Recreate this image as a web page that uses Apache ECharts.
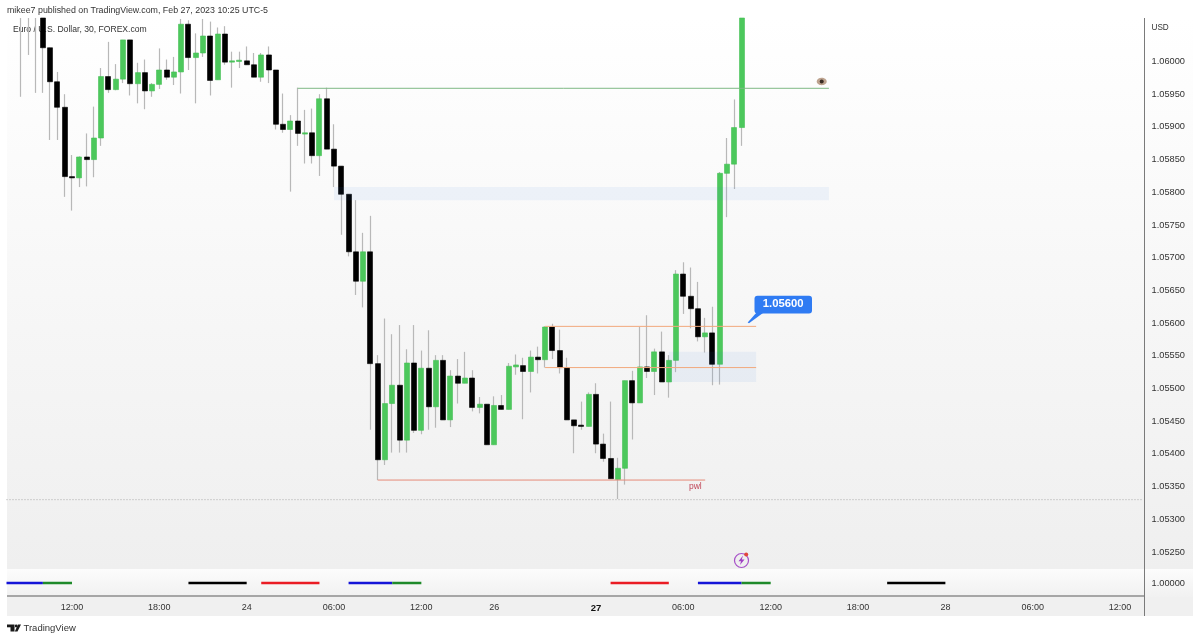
<!DOCTYPE html>
<html><head><meta charset="utf-8">
<style>html,body{margin:0;padding:0;background:#fff}#c{width:1200px;height:641px}</style>
<script src="https://cdn.jsdelivr.net/npm/echarts@6/dist/echarts.min.js"></script>
</head><body><div id="c"></div>
<script>
const barCount = 157;
const firstBar = 2;
const priceMin = 1.052240, priceMax = 1.060665;
const tickIndex = [9,21,33,45,57,67,81,93,105,117,129,141,153];
const tickLabels = ['12:00','18:00','24','06:00','12:00','26','27','06:00','12:00','18:00','28','06:00','12:00'];
const priceTicks = [1.0525,1.053,1.0535,1.054,1.0545,1.055,1.0555,1.056,1.0565,1.057,1.0575,1.058,1.0585,1.059,1.0595,1.06];
const opens = [1.06085,1.06078,1.06090,1.06075,1.06021,1.05969,1.05930,1.05824,1.05822,1.05854,
1.05850,1.05883,1.05977,1.05957,1.05973,1.06033,1.05966,1.05983,1.05955,1.05965,
1.05987,1.05976,1.05984,1.06057,1.06006,1.06013,1.06039,1.05972,1.06042,1.05999,
1.06000,1.06001,1.05995,1.05976,1.06010,1.05987,1.05904,1.05896,1.05909,1.05889,
1.05891,1.05856,1.05943,1.05866,1.05840,1.05797,1.05709,1.05664,1.05709,1.05538,
1.05391,1.05477,1.05505,1.05421,1.05539,1.05436,1.05531,1.05472,1.05543,1.05452,
1.05519,1.05508,1.05516,1.05471,1.05476,1.05414,1.05474,1.05468,1.05533,1.05535,
1.05526,1.05548,1.05544,1.05594,1.05558,1.05532,1.05452,1.05444,1.05442,1.05491,
1.05415,1.05393,1.05361,1.05378,1.05512,1.05478,1.05533,1.05526,1.05556,1.05510,
1.05543,1.05675,1.05641,1.05622,1.05579,1.05585,1.05537,1.05829,1.05843,1.05899];
const closes = [1.06078,1.06090,1.06080,1.06021,1.05969,1.05930,1.05824,1.05822,1.05854,1.05850,
1.05883,1.05977,1.05957,1.05973,1.06033,1.05966,1.05983,1.05955,1.05965,1.05987,
1.05976,1.05984,1.06057,1.06006,1.06013,1.06039,1.05971,1.06042,1.05999,1.06001,
1.06002,1.05995,1.05976,1.06010,1.05987,1.05904,1.05896,1.05909,1.05890,1.05891,
1.05856,1.05943,1.05866,1.05840,1.05797,1.05709,1.05664,1.05709,1.05538,1.05391,
1.05477,1.05505,1.05421,1.05539,1.05436,1.05531,1.05472,1.05543,1.05452,1.05519,
1.05508,1.05516,1.05471,1.05476,1.05414,1.05474,1.05468,1.05534,1.05536,1.05526,
1.05548,1.05544,1.05594,1.05558,1.05532,1.05452,1.05443,1.05442,1.05491,1.05415,
1.05393,1.05362,1.05378,1.05512,1.05478,1.05533,1.05526,1.05556,1.05510,1.05543,
1.05675,1.05641,1.05622,1.05579,1.05585,1.05537,1.05829,1.05843,1.05899,1.06075];
const highs = [1.06095,1.06100,1.06105,1.06080,1.06021,1.05984,1.05950,1.05857,1.05855,1.05890,
1.05931,1.05990,1.06030,1.05996,1.06033,1.06033,1.05998,1.06003,1.05967,1.06020,
1.06003,1.06007,1.06065,1.06063,1.06043,1.06065,1.06061,1.06052,1.06054,1.06015,
1.06015,1.06023,1.06013,1.06013,1.06023,1.05987,1.05951,1.05918,1.05960,1.05926,
1.05928,1.05950,1.05960,1.05904,1.05840,1.05797,1.05788,1.05738,1.05764,1.05551,
1.05607,1.05583,1.05597,1.05560,1.05597,1.05558,1.05589,1.05551,1.05551,1.05528,
1.05545,1.05556,1.05528,1.05487,1.05476,1.05488,1.05490,1.05539,1.05552,1.05547,
1.05558,1.05564,1.05595,1.05599,1.05590,1.05547,1.05452,1.05480,1.05494,1.05508,
1.05431,1.05480,1.05394,1.05512,1.05527,1.05594,1.05612,1.05561,1.05587,1.05551,
1.05681,1.05693,1.05685,1.05663,1.05608,1.05625,1.05831,1.05883,1.05942,1.06080];
const lows = [1.05946,1.06010,1.05952,1.05952,1.05880,1.05880,1.05793,1.05772,1.05808,1.05809,
1.05823,1.05871,1.05952,1.05956,1.05967,1.05948,1.05936,1.05927,1.05946,1.05958,
1.05972,1.05964,1.05951,1.05987,1.05936,1.06007,1.05948,1.05972,1.05995,1.05960,
1.05990,1.05995,1.05976,1.05969,1.05967,1.05896,1.05891,1.05801,1.05871,1.05844,
1.05844,1.05825,1.05866,1.05808,1.05735,1.05702,1.05643,1.05624,1.05437,1.05360,
1.05383,1.05402,1.05402,1.05402,1.05432,1.05430,1.05437,1.05440,1.05452,1.05441,
1.05477,1.05508,1.05465,1.05462,1.05414,1.05414,1.05468,1.05468,1.05521,1.05453,
1.05494,1.05523,1.05532,1.05545,1.05523,1.05452,1.05401,1.05437,1.05442,1.05401,
1.05388,1.05362,1.05331,1.05353,1.05422,1.05478,1.05516,1.05490,1.05510,1.05486,
1.05525,1.05614,1.05592,1.05572,1.05555,1.05505,1.05506,1.05762,1.05805,1.05871];
const levelGreen = [[40,1.05959],[113,1.05959]];
const levelTop = [[74,1.05595],[103,1.05595]];
const levelMid = [[74,1.05532],[103,1.05532]];
const levelPwl = [[51,1.05360],[96,1.05360]];
const levelDotted = [[0,1.05330],[156,1.05330]];
const zoneUpper = [[45,1.05808],[113,1.05788]];
const zoneLower = [[91,1.05556],[103,1.05510]];
const sessionBlue = [[[0,1],[5,1]],[[47,1],[53,1]],[[95,1],[101,1]]];
const sessionGreen = [[[5,1],[9,1]],[[53,1],[57,1]],[[101,1],[105,1]]];
const sessionBlack = [[[25,1],[33,1]],[[121,1],[129,1]]];
const sessionRed = [[[35,1],[43,1]],[[83,1],[91,1]]];

const categories = Array.from({length:barCount},()=> '');
tickIndex.forEach((k,n)=>{categories[k]=tickLabels[n];});
const pad = Array.from({length:firstBar},()=> '-');
// ECharts only culls whole candles, so keep what is drawn inside the visible price window
const cap = v => Math.min(v, priceMax);
const wickData = pad.concat(opens.map((o,k)=>[cap(o),cap(closes[k]),lows[k],cap(highs[k])]));
const bodyData = pad.concat(opens.map((o,k)=>{
  const c = closes[k];
  if (Math.min(o,c) >= priceMax) return '-';
  return [cap(o),cap(c),Math.min(o,c),cap(Math.max(o,c))];
}));

const UP='#4cc85c', FONT='"Liberation Sans",Arial,sans-serif';
const lineS=(data,color,width,name,type)=>({type:'line',name,data,xAxisIndex:0,yAxisIndex:0,showSymbol:false,symbol:'none',silent:true,animation:false,z:7,lineStyle:{color,width,type:type||'solid'}});
const segS=(list,color,name)=>list.map(d=>({type:'line',name,data:d,xAxisIndex:1,yAxisIndex:1,showSymbol:false,symbol:'none',silent:true,animation:false,lineStyle:{color,width:2.5,cap:'butt'}}));
const zoneStyle={color:'rgba(60,130,230,0.07)'};

const chart=echarts.init(document.getElementById('c'),null,{renderer:'canvas'});
chart.setOption({
 animation:false,
 backgroundColor:'#ffffff',
 graphic:{z:0,elements:[
  {type:'rect',shape:{x:7,y:18,width:1186,height:551},style:{fill:new echarts.graphic.LinearGradient(0,0,0,1,[{offset:0,color:'#ffffff'},{offset:1,color:'#efefef'}])}},
  {type:'rect',shape:{x:7,y:569,width:1186,height:28},style:{fill:new echarts.graphic.LinearGradient(0,0,0,1,[{offset:0,color:'#fcfcfc'},{offset:1,color:'#f1f1f1'}])}},
  {type:'rect',shape:{x:7,y:597,width:1186,height:19},style:{fill:'#f0f0f0'}},
  {type:'text',x:13,y:30,style:{text:'Euro / U.S. Dollar, 30, FOREX.com',font:'8.6px '+FONT,fill:'#333',textVerticalAlign:'middle'}},
  {type:'line',shape:{x1:1144.5,y1:18,x2:1144.5,y2:616},style:{stroke:'#7a7a7a',lineWidth:1}},
  {type:'line',shape:{x1:7,y1:596,x2:1144,y2:596},style:{stroke:'#a6a6a6',lineWidth:2}},
  {type:'text',x:7,y:11,style:{text:'mikee7 published on TradingView.com, Feb 27, 2023 10:25 UTC-5',font:'8.85px '+FONT,fill:'#333',textVerticalAlign:'middle'}},
  {type:'text',x:1151.5,y:28,style:{text:'USD',font:'8.2px '+FONT,fill:'#333',textVerticalAlign:'middle'}},
  {type:'text',x:689,y:487,style:{text:'pwl',font:'8.5px '+FONT,fill:'#c0485a',textVerticalAlign:'middle'}},
  {type:'polygon',shape:{points:[[757,312],[763,313],[749,323.3],[747.7,322.5]]},style:{fill:'#2f7bf3'}},
  {type:'rect',shape:{x:754.5,y:295.7,width:57.5,height:17.8,r:3},style:{fill:'#2f7bf3'}},
  {type:'text',x:783.2,y:304,style:{text:'1.05600',font:'bold 11.3px '+FONT,fill:'#fff',textAlign:'center',textVerticalAlign:'middle'}},
  {type:'ellipse',shape:{cx:821.7,cy:81.5,rx:5,ry:3.7},style:{fill:'#bda38f'}},
  {type:'circle',shape:{cx:821.7,cy:81.5,r:2},style:{fill:'#3a2c24'}},
  {type:'circle',shape:{cx:741.5,cy:560.5,r:7},style:{fill:'none',stroke:'#a64fc8',lineWidth:1.2}},
  {type:'polygon',shape:{points:[[743,555.5],[738.5,561.2],[741,561.2],[740,565],[744.5,559.4],[741.8,559.4]]},style:{fill:'#a03fc4'}},
  {type:'circle',shape:{cx:746.2,cy:554.6,r:2},style:{fill:'#e2453c'}},
  {type:'rect',shape:{x:7,y:624.5,width:7.5,height:2.8},style:{fill:'#1a1a1a'}},
  {type:'rect',shape:{x:10.5,y:627,width:4,height:4.5},style:{fill:'#1a1a1a'}},
  {type:'circle',shape:{cx:16.2,cy:626,r:1.4},style:{fill:'#1a1a1a'}},
  {type:'polygon',shape:{points:[[18,624.5],[21,624.5],[17.5,631.5],[14.8,631.5]]},style:{fill:'#1a1a1a'}},
  {type:'text',x:23.5,y:628,style:{text:'TradingView',font:'9.5px '+FONT,fill:'#333',textVerticalAlign:'middle'}}
 ]},
 grid:[{left:2.86,width:1142.67,top:18,height:551},{left:2.86,width:1142.67,top:570,height:26}],
 xAxis:[
  {type:'category',gridIndex:0,data:categories,show:false},
  {type:'category',gridIndex:1,data:categories,axisLine:{show:false},axisTick:{show:false},
   axisLabel:{interval:0,margin:7,hideOverlap:false,fontSize:9,fontFamily:FONT,color:'#333',
    formatter:v=>v==='27'?'{b|27}':v,rich:{b:{fontWeight:'bold',fontSize:9.5,fontFamily:FONT,color:'#111'}}}}
 ],
 yAxis:[
  {type:'value',gridIndex:0,position:'right',min:priceMin,max:priceMax,scale:true,axisLine:{show:false},axisTick:{show:false},splitLine:{show:false},
   axisLabel:{customValues:priceTicks,margin:6,fontSize:9.25,fontFamily:FONT,color:'#333',formatter:v=>v.toFixed(5),showMinLabel:true,showMaxLabel:true}},
  {type:'value',gridIndex:1,position:'right',min:0.9,max:1.1,axisLine:{show:false},axisTick:{show:false},splitLine:{show:false},
   axisLabel:{customValues:[1],margin:6,fontSize:9.25,fontFamily:FONT,color:'#333',formatter:v=>v.toFixed(5)}}
 ],
 series:[
  {type:'candlestick',name:'wicks',data:wickData,xAxisIndex:0,yAxisIndex:0,barWidth:1,silent:true,z:2,
   itemStyle:{color:'#b8b8b8',color0:'#b8b8b8',borderColor:'#b8b8b8',borderColor0:'#b8b8b8',borderWidth:1.2}},
  {type:'candlestick',name:'bodies',data:bodyData,xAxisIndex:0,yAxisIndex:0,barWidth:5.5,silent:true,z:4,
   itemStyle:{color:UP,color0:'#000000',borderColor:'#45bf56',borderColor0:'#000000',borderWidth:0.6},
   markArea:{silent:true,z:6,itemStyle:zoneStyle,label:{show:false},data:[
    [{xAxis:zoneUpper[0][0],yAxis:zoneUpper[0][1]},{xAxis:zoneUpper[1][0],yAxis:zoneUpper[1][1]}],
    [{xAxis:zoneLower[0][0],yAxis:zoneLower[0][1]},{xAxis:zoneLower[1][0],yAxis:zoneLower[1][1]}]]}},
  lineS(levelDotted,'#a8a8a8',1,'dotted',[1,2]),
  lineS(levelGreen,'#7fb985',1,'level green'),
  lineS(levelTop,'#f2a97c',1,'level top'),
  lineS(levelMid,'#f2a97c',1,'level mid'),
  lineS(levelPwl,'#e58a78',1,'pwl'),
  ...segS(sessionBlue,'#1515d8','blue'),
  ...segS(sessionGreen,'#1f8a2a','green'),
  ...segS(sessionBlack,'#000000','black'),
  ...segS(sessionRed,'#ea1c24','red')
 ]
});
</script></body></html>
